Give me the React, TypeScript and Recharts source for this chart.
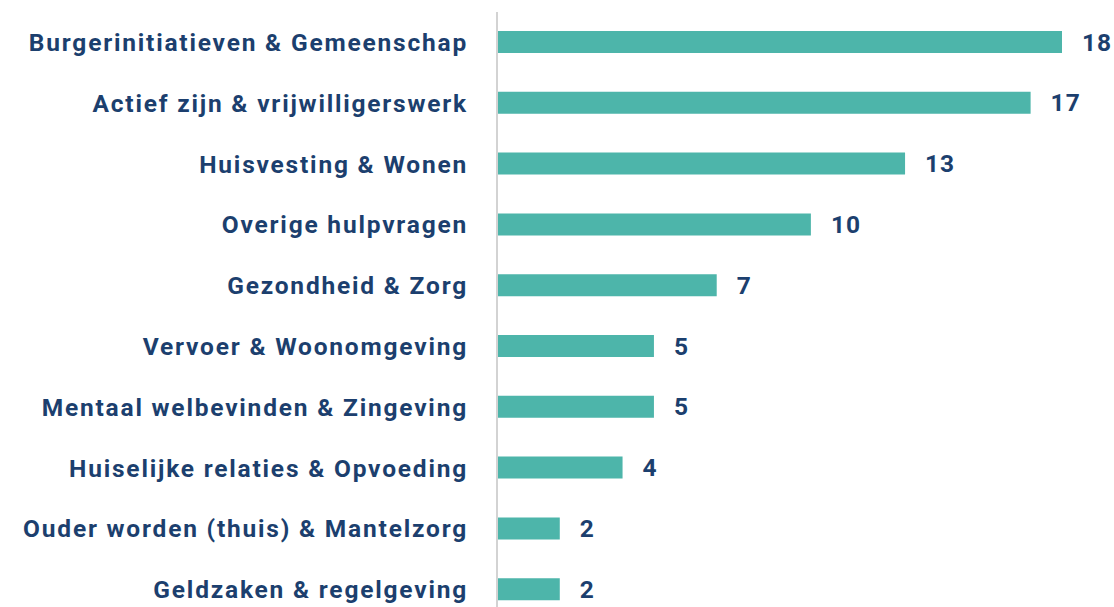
import { Bar, BarChart, LabelList, XAxis, YAxis } from "recharts";

const categories = [
  "Burgerinitiatieven & Gemeenschap",
  "Actief zijn & vrijwilligerswerk",
  "Huisvesting & Wonen",
  "Overige hulpvragen ",
  "Gezondheid & Zorg",
  "Vervoer & Woonomgeving",
  "Mentaal welbevinden & Zingeving",
  "Huiselijke relaties & Opvoeding",
  "Ouder worden (thuis) & Mantelzorg",
  "Geldzaken & regelgeving",
];
const counts = [18, 17, 13, 10, 7, 5, 5, 4, 2, 2];

const data = categories.map((name, i) => ({ name, value: counts[i] }));

const navy = "#1c3f6e";
const teal = "#4db5aa";
const font = "Roboto, sans-serif";

export default function App() {
  return (
    <div style={{ position: "absolute", left: 0, top: 0, background: "#fff" }}>
      <BarChart
        width={1114}
        height={620}
        data={data}
        layout="vertical"
        margin={{ top: 12, right: 52, left: 0, bottom: 0 }}
      >
        <XAxis type="number" domain={[0, 18]} hide />
        <YAxis
          type="category"
          dataKey="name"
          width={497}
          tickSize={0}
          tickMargin={29}
          axisLine={{ stroke: "#d3d3d3", strokeWidth: 2 }}
          tick={{ fill: navy, fontSize: 24.5, fontWeight: 700, fontFamily: font, letterSpacing: 1.8 }}
          interval={0}
        />
        <Bar dataKey="value" fill={teal} barSize={22} isAnimationActive={false}>
          <LabelList
            dataKey="value"
            position="right"
            offset={20}
            fill={navy}
            style={{ fontSize: 24.5, fontWeight: 700, fontFamily: font, letterSpacing: 1 }}
          />
        </Bar>
      </BarChart>
    </div>
  );
}
